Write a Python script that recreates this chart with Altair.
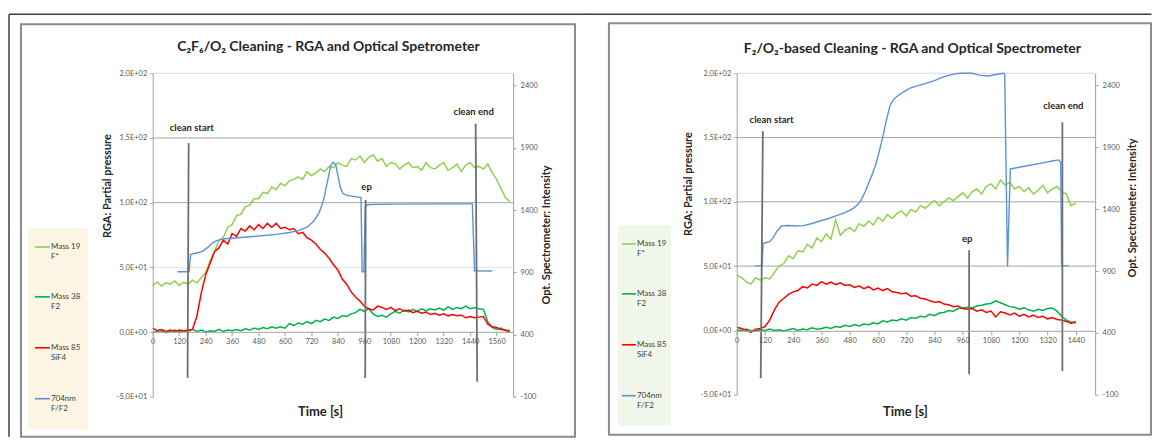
import altair as alt
import pandas as pd

FONT = "Lato"
TXT = "#262626"
TICK_TXT = "#595959"
AXIS_LINE = "#A0A0A0"

# ---------------- shared ----------------
SERIES = ["Mass 19", "Mass 38", "Mass 85", "704nm"]
SERIES_SUB = ["F*", "F2", "SiF4", "F/F2"]
SERIES_COLORS = ["#92D050", "#00B050", "#FF0000", "#5B93D3"]
EVENTS = ["clean start", "ep", "clean end"]

YL_TICKS = [-50, 0, 50, 100, 150, 200]
YL_LABELS = ["-5,0E+01", "0,0E+00", "5,0E+01", "1,0E+02", "1,5E+02", "2,0E+02"]
YR_TICKS = [-100, 400, 900, 1400, 1900, 2400]
GRID_VALUES = [200, 150, 100, 50]

# ---------------- left panel data ----------------
TITLE_L = "C₂F₆/O₂ Cleaning - RGA  and Optical Spetrometer"
X_TICKS_L = [0, 120, 240, 360, 480, 600, 720, 840, 960, 1080, 1200, 1320, 1440, 1560]
X_MAX_L = 1635
T_L = [0, 20, 40, 60, 80, 100, 120, 140, 160, 180,
       200, 220, 240, 260, 280, 300, 320, 340, 360, 380,
       400, 420, 440, 460, 480, 500, 520, 540, 560, 580,
       600, 620, 640, 660, 680, 700, 720, 740, 760, 780,
       800, 820, 840, 860, 880, 900, 920, 940, 960, 980,
       1000, 1020, 1040, 1060, 1080, 1100, 1120, 1140, 1160, 1180,
       1200, 1220, 1240, 1260, 1280, 1300, 1320, 1340, 1360, 1380,
       1400, 1420, 1440, 1460, 1480, 1500, 1520, 1540, 1560, 1580,
       1600, 1620]
M19_L = [36, 38.5, 35.5, 38, 37, 39.5, 36, 38.5, 37, 40,
         38, 42, 46, 55, 62, 71, 73, 81, 83, 90,
         91, 97, 98, 103, 103, 108, 107, 112, 110, 115,
         113, 117, 118, 120, 118, 124, 121, 123, 126, 124,
         128, 127, 131, 129, 128, 134, 133, 136, 131, 135,
         137, 132, 134, 128, 131, 130, 126, 129, 131, 127,
         128, 125, 131, 127, 126, 129, 131, 125, 127, 130,
         124, 129, 131, 127, 128, 126, 130, 123, 118, 111,
         104, 101]
M38_L = [-0.5, 0.5, 1, -0.5, 0.5, 1.5, 0, 1, 0.5, 2,
         0.5, 1.5, 0, 1, 0.5, 2, 0.5, 1.5, 1, 2,
         1, 2.5, 1.5, 3, 2, 3.5, 2.5, 4, 3, 4,
         3, 6.5, 5, 7, 6, 8, 6.5, 9, 8, 10,
         9, 11.5, 10.5, 12.5, 12, 14, 15, 17.5, 16, 18,
         14, 12, 13, 11.5, 14, 16, 14.5, 17, 15.5, 17.5,
         16, 18, 16.5, 18, 17, 18.5, 17, 19.5, 17.5, 19,
         18, 20, 18, 19, 18, 17.5, 8, 3.5, 2, 3,
         1, 1.5]
M85_L = [3, 1, 2, 0.5, 1.5, 0.5, 1.5, 1, 1.5, 2,
         12, 30, 44, 53, 62, 65, 71, 68, 76, 74,
         80, 78, 82, 79, 83, 80, 84, 81, 84, 80,
         81, 79, 80, 76, 77, 73, 71, 68, 64, 61,
         57, 52, 48, 41, 37, 31, 27, 24, 20, 18,
         17, 20, 19, 17.5, 19, 16.5, 18, 16, 17, 15,
         16, 14.5, 15.5, 13.5, 14.5, 13, 14, 12.5, 13.5, 12.5,
         13, 11, 12, 11, 11.5, 12, 6, 4, 3.5, 2,
         1.5, 0]
BLUE_T_L = [112, 165, 172, 200, 225, 250, 270, 290, 320, 340,
            400, 480, 560, 620, 660, 700, 730, 755, 775, 795,
            808, 818, 830, 840, 850, 862, 880, 910, 945, 950,
            958, 964, 980, 1100, 1300, 1450, 1460, 1540]
BLUE_V_L = [905, 905, 1045, 1055, 1068, 1100, 1135, 1155, 1168, 1172,
            1180, 1192, 1205, 1220, 1235, 1262, 1310, 1380, 1480, 1650,
            1760, 1785, 1765, 1680, 1590, 1535, 1518, 1510, 1500, 905,
            905, 1435, 1445, 1448, 1450, 1450, 912, 910]
EV_T1_L = [163, 966, 1465]
EV_T2_L = [158, 964, 1472]
EV_V1_L = [146, 102, 161]
EV_V2_L = [-35.5, -35.5, -38.5]
EV_LT_L = [177, 970, 1456]
EV_LV_L = [158, 112, 170]

# ---------------- right panel data ----------------
TITLE_R = "F₂/O₂-based Cleaning - RGA and Optical Spectrometer"
X_TICKS_R = [0, 120, 240, 360, 480, 600, 720, 840, 960, 1080, 1200, 1320, 1440]
X_MAX_R = 1522
T_R = [0, 20, 40, 60, 80, 100, 120, 140, 160, 180,
       200, 220, 240, 260, 280, 300, 320, 340, 360, 380,
       400, 420, 440, 460, 480, 500, 520, 540, 560, 580,
       600, 620, 640, 660, 680, 700, 720, 740, 760, 780,
       800, 820, 840, 860, 880, 900, 920, 940, 960, 980,
       1000, 1020, 1040, 1060, 1080, 1100, 1120, 1140, 1160, 1180,
       1200, 1220, 1240, 1260, 1280, 1300, 1320, 1340, 1360, 1380,
       1400, 1420, 1440]
M19_R = [43, 41, 38, 36, 41, 39, 41, 40, 45, 50,
         52, 58, 56, 62, 61, 67, 64, 72, 69, 75,
         71, 86, 74, 78, 80, 77, 83, 81, 85, 82,
         88, 85, 90, 87, 91, 93, 89, 94, 92, 97,
         95, 98, 101, 97, 100, 103, 101, 104, 107, 103,
         108, 110, 106, 112, 114, 110, 117, 113, 115, 110,
         112, 108, 111, 106, 109, 113, 107, 110, 112, 108,
         106, 97, 99]
M38_R = [0.5, 0, 1, 0, -0.5, 0.5, 0, 1, 0, 0.5,
         -0.5, 0.5, 1.5, 0, 1, 0.5, 2, 1, 1.5, 2.5,
         1.5, 3, 2.5, 4, 3, 4.5, 3.5, 5, 4.5, 6,
         5, 7.5, 6.5, 8, 7.5, 9, 8, 10, 9.5, 11,
         10.5, 12.5, 11.5, 13.5, 14, 15.5, 15, 17, 17.5, 18,
         17.5, 19, 19.5, 20.5, 21, 23, 21.5, 20, 18.5, 18,
         16.5, 17.5, 16, 15, 16.5, 15.5, 17, 17.5, 15, 11,
         8, 6.5, 5.5]
M85_R = [2.5, 1.5, 0, -1.5, 1, 1.5, 3, 8, 16, 22,
         25, 28, 30, 31, 34, 33, 36, 35, 38, 36,
         37.5, 35.5, 37, 35, 35.5, 33.5, 34.5, 32.5, 34, 31.5,
         33, 31, 32.5, 30, 29.5, 28.5, 29, 26.5, 27, 25,
         24.5, 23, 22, 22.5, 20.5, 20, 18.5, 19, 17, 16.5,
         17, 15, 16, 14, 15, 10.5, 14.5, 13.5, 12, 13.5,
         11, 12.5, 10.5, 12, 10, 11, 9, 10, 8.5, 8,
         7, 5.5, 7]
BLUE_T_R = [77, 108, 112, 140, 155, 170, 190, 220, 250, 283,
            320, 353, 390, 424, 460, 495, 515, 530, 545, 560,
            575, 590, 600, 612, 622, 632, 642, 652, 665, 680,
            705, 736, 770, 807, 840, 864, 890, 921, 950, 1000,
            1034, 1070, 1106, 1134, 1138, 1150, 1162, 1200, 1250, 1300,
            1340, 1367, 1376, 1380, 1410]
BLUE_V_R = [942, 942, 1125, 1138, 1170, 1220, 1265, 1268, 1265, 1268,
            1285, 1305, 1325, 1348, 1372, 1407, 1440, 1480, 1540, 1610,
            1680, 1760, 1830, 1920, 2000, 2090, 2170, 2245, 2285, 2312,
            2345, 2380, 2400, 2420, 2440, 2461, 2478, 2493, 2500, 2500,
            2483, 2478, 2492, 2500, 2490, 940, 1726, 1740, 1758, 1775,
            1790, 1799, 1780, 942, 942]
EV_T1_R = [111, 987, 1383]
EV_T2_R = [102, 987, 1383]
EV_V1_R = [155, 62.4, 162]
EV_V2_R = [-37, -34, -31.5]
EV_LT_R = [148, 979, 1387]
EV_LV_R = [163.5, 71, 174.5]

ONE = pd.DataFrame({"k": [0]})


def deco_rule(x1, y1, x2, y2, color, width):
    return alt.Chart(ONE).mark_rule(color=color, strokeWidth=width).encode(
        x=alt.value(x1), y=alt.value(y1), x2=alt.value(x2), y2=alt.value(y2))


def deco_rect(x1, y1, x2, y2, fill, stroke=None, width=0):
    kw = dict(fill=fill)
    if stroke:
        kw.update(stroke=stroke, strokeWidth=width)
    return alt.Chart(ONE).mark_rect(**kw).encode(
        x=alt.value(x1), y=alt.value(y1), x2=alt.value(x2), y2=alt.value(y2))


def deco_text(x, y, s, size, bold=False, color=TXT, angle=None, align="center"):
    kw = dict(fontSize=size, color=color, align=align, baseline="middle", font=FONT)
    if bold:
        kw["fontWeight"] = "bold"
    if angle is not None:
        kw["angle"] = angle
    return alt.Chart(ONE).mark_text(**kw).encode(
        x=alt.value(x), y=alt.value(y), text=alt.value(s))


YL_EXPR = " : ".join(f"datum.value == {v} ? '{s}'" for v, s in zip(YL_TICKS, YL_LABELS)) + " : ''"


def build_panel(title, t, m19, m38, m85, bt, bv, ev, xticks, xmax, geo):
    W, H = geo["w"], geo["h"]
    xs = alt.Scale(domain=[0, xmax], nice=False, zero=False)
    ysl = alt.Scale(domain=[-50, 200], nice=False, zero=False)
    ysr = alt.Scale(domain=[-100, 2500], nice=False, zero=False)

    x_axis = alt.Axis(values=xticks, title=None, grid=False, offset=geo["x_offset"], zindex=1,
                      domainColor=AXIS_LINE, tickColor=AXIS_LINE, tickSize=4,
                      labelFontSize=7.5, labelColor=TICK_TXT, labelPadding=2,
                      labelFont=FONT, labelFlush=False, labelOverlap=False,
                      labelExpr="'' + datum.value")
    yl_axis = alt.Axis(values=YL_TICKS, labelExpr=YL_EXPR, title=None, grid=False, zindex=1,
                       domainColor=AXIS_LINE, tickColor=AXIS_LINE, tickSize=3,
                       labelFontSize=7.5, labelColor=TICK_TXT, labelPadding=3, labelFont=FONT)
    yr_axis = alt.Axis(orient="right", values=YR_TICKS, title=None, grid=False, zindex=1,
                       domainColor=AXIS_LINE, tickColor=AXIS_LINE, tickSize=3,
                       labelExpr="'' + datum.value",
                       labelFontSize=7.5, labelColor=TICK_TXT, labelPadding=4, labelFont=FONT)

    layers = []
    layers.append(deco_rule(*geo["outer_top"], "#404040", 1.5))
    if "outer_left" in geo:
        layers.append(deco_rule(*geo["outer_left"], "#404040", 1.5))
    layers.append(deco_rect(*geo["frame"], "white", "#8C8C8C", 2))
    layers.append(deco_rect(*geo["legend_box"], geo["legend_fill"]))
    lx1, lx2, tx = geo["legend_x"]
    for i, ly in enumerate(geo["legend_y"]):
        layers.append(deco_rule(lx1, ly, lx2, ly, SERIES_COLORS[i], 1.6))
        layers.append(deco_text(tx, ly, SERIES[i], 8, color="#404040", align="left"))
        layers.append(deco_text(tx, ly + 10.5, SERIES_SUB[i], 8, color="#404040", align="left"))
    layers.append(deco_text(*geo["title"], title, 14, bold=True))
    layers.append(deco_text(*geo["ytitle_l"], "RGA: Partial pressure", 11, bold=True, angle=270))
    layers.append(deco_text(*geo["ytitle_r"], "Opt. Spectrometer: Intensity", 11, bold=True, angle=270))
    layers.append(deco_text(*geo["xtitle"], "Time [s]", 13, bold=True))

    for v, c in zip(GRID_VALUES, geo["grid_colors"]):
        layers.append(
            alt.Chart(pd.DataFrame({"v": [v]})).mark_rule(color=c, strokeWidth=1).encode(
                y=alt.Y("v:Q", scale=ysl, axis=yl_axis), x=alt.value(0), x2=alt.value(W)))

    def series_line(vals, color):
        df = pd.DataFrame({"t": t, "v": vals})
        return alt.Chart(df).mark_line(color=color, strokeWidth=1.5).encode(
            x=alt.X("t:Q", scale=xs, axis=x_axis),
            y=alt.Y("v:Q", scale=ysl, axis=yl_axis))

    layers.append(series_line(m19, SERIES_COLORS[0]))
    layers.append(series_line(m38, SERIES_COLORS[1]))
    layers.append(series_line(m85, SERIES_COLORS[2]))
    group_left = alt.layer(*layers)

    blue = alt.Chart(pd.DataFrame({"t": bt, "v": bv})).mark_line(
        color=SERIES_COLORS[3], strokeWidth=1.4).encode(
        x=alt.X("t:Q", scale=xs, axis=x_axis),
        y=alt.Y("v:Q", scale=ysr, axis=yr_axis))

    ev_df = pd.DataFrame({"name": EVENTS, "t1": ev[0], "t2": ev[1], "v1": ev[2], "v2": ev[3],
                          "lt": ev[4], "lv": ev[5]})
    ann_rule = alt.Chart(ev_df).mark_rule(color="#6F6F6F", strokeWidth=1.8).encode(
        x=alt.X("t1:Q", scale=xs, axis=x_axis), x2="t2:Q",
        y=alt.Y("v1:Q", scale=ysl, axis=None), y2="v2:Q")
    ann_text = alt.Chart(ev_df).mark_text(fontSize=9.5, fontWeight="bold", color=TXT,
                                          font=FONT, baseline="middle").encode(
        x=alt.X("lt:Q", scale=xs, axis=x_axis),
        y=alt.Y("lv:Q", scale=ysl, axis=None),
        text="name:N")
    ann = alt.layer(ann_rule, ann_text)

    return alt.layer(group_left, blue, ann).resolve_scale(y="independent").properties(
        width=W, height=H)


GEO_L = dict(
    w=361, h=324, x_offset=-65,
    outer_top=(-144, -59, 439, -59),
    outer_left=(-144, -59, -144, 364),
    frame=(-132, -49, 423, 364),
    legend_box=(-125, 155, -65, 356),
    legend_fill="#FDF5E3",
    legend_x=(-118, -103, -102),
    legend_y=[174, 224, 275, 326],
    title=(176, -26),
    ytitle_l=(-44.5, 113),
    ytitle_r=(395, 162),
    xtitle=(168, 339),
    grid_colors=["#D9D9D9", "#A6A6A6", "#A6A6A6", "#E2E2E2"],
)
GEO_R = dict(
    w=359, h=322, x_offset=-64,
    outer_top=(-146.5, -59, 415.5, -59),
    frame=(-128, -50, 415, 362),
    legend_box=(-119, 152, -66, 353),
    legend_fill="#F1F7EA",
    legend_x=(-115, -101, -100),
    legend_y=[171, 221, 272, 323],
    title=(176, -24),
    ytitle_l=(-47.4, 111),
    ytitle_r=(397, 135),
    xtitle=(169, 339),
    grid_colors=["#D9D9D9", "#A6A6A6", "#A6A6A6", "#A6A6A6"],
)

left = build_panel(TITLE_L, T_L, M19_L, M38_L, M85_L, BLUE_T_L, BLUE_V_L,
                   (EV_T1_L, EV_T2_L, EV_V1_L, EV_V2_L, EV_LT_L, EV_LV_L),
                   X_TICKS_L, X_MAX_L, GEO_L)
right = build_panel(TITLE_R, T_R, M19_R, M38_R, M85_R, BLUE_T_R, BLUE_V_R,
                    (EV_T1_R, EV_T2_R, EV_V1_R, EV_V2_R, EV_LT_R, EV_LV_R),
                    X_TICKS_R, X_MAX_R, GEO_R)

chart = alt.hconcat(left, right, spacing=-3).resolve_scale(
    x="independent", y="independent").properties(
    padding={"left": 0, "top": 5, "right": 0, "bottom": 0}, background="white"
).configure(font=FONT).configure_view(stroke=None)

chart.save("out.html", embed_options={"renderer": "svg", "actions": False})
